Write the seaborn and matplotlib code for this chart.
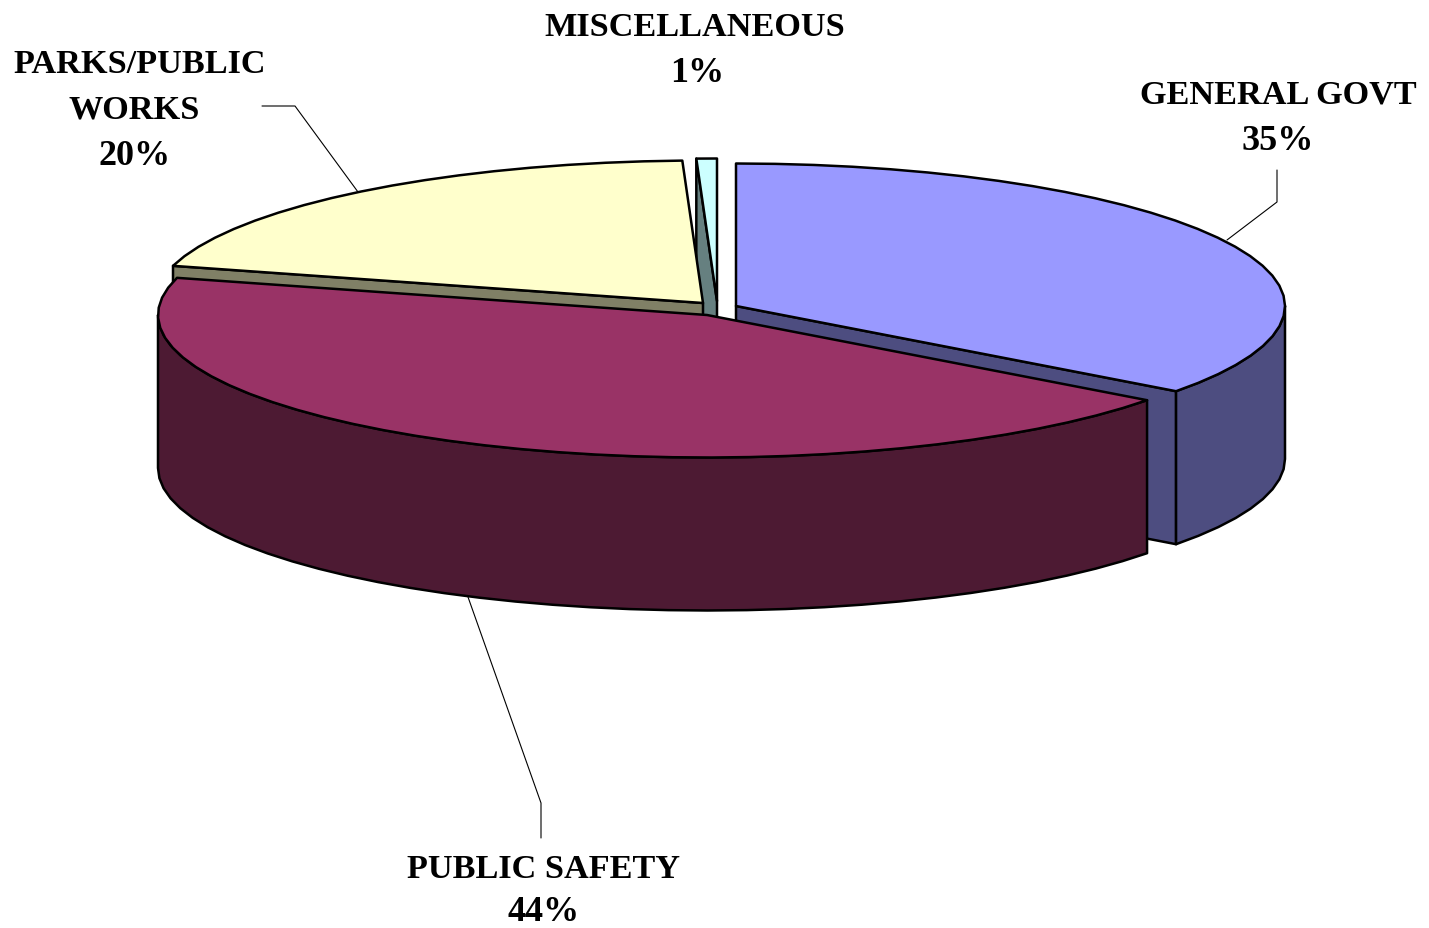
#!/usr/bin/env python3
"""Exploded 3D-look pie of spending shares, drawn as projected polygons."""

import numpy as np
import matplotlib
matplotlib.use('Agg')
import matplotlib.pyplot as plt
import seaborn as sns
from matplotlib.patches import Polygon

# Slices run clockwise from 12 o'clock
CATEGORIES = ['GENERAL GOVT', 'PUBLIC SAFETY', 'PARKS/PUBLIC\nWORKS', 'MISCELLANEOUS']
SHARES = [35.2, 44.0, 20.2, 0.6]
SHARE_LABELS = ['35%', '44%', '20%', '1%']
TOP_COLORS = ['#9999FF', '#993366', '#FFFFCC', '#CCFFFF']
SIDE_COLORS = ['#4D4D80', '#4D1A33', '#808066', '#668080']

# Pixel layout of the projected disc
APEX = [(736, 306), (707, 315), (703, 303), (717, 301)]
RADIUS_X = 549
RADIUS_Y = 142.5
DEPTH = 153
DRAW_ORDER = [3, 2, 0, 1]
EDGE_LW = 1.8

TEXT_POS = [(1278, 94), (544, 869), (140, 63), (695, 26)]
PCT_X = [1278, 544, 135, 697]
PCT_STEP = [46, 43, 46, 46]  # the 44% sits tight against the bottom edge
WORKS_X = 134
LINE_STEP = 46
NAME_SIZE = 24.7
PCT_SIZE = 26
LEADERS = [
    [(1277, 170), (1277, 202), (1227, 240)],
    [(541, 838), (541, 803), (468, 597)],
    [(262, 106), (295, 106), (358, 192)],
]


def rim(apex, theta):
    """Point on the top rim of a slice, theta in degrees clockwise from top."""
    t = np.radians(theta)
    return np.column_stack([apex[0] + RADIUS_X * np.sin(t), apex[1] - RADIUS_Y * np.cos(t)])


def arc_angles(start, end):
    n = max(2, int(abs(end - start) / 4) + 1)
    return np.linspace(start, end, n)


def add_poly(ax, points, color):
    ax.add_patch(Polygon(points, closed=True, facecolor=color, edgecolor='black',
                         linewidth=EDGE_LW, joinstyle='round'))


def draw_slice(ax, apex, start, end, top_color, side_color):
    apex_pt = np.array([apex])
    down = np.array([0, DEPTH])

    # radial faces that look towards the viewer
    if np.sin(np.radians(start)) < 0:
        edge = rim(apex, [start])
        add_poly(ax, np.vstack([apex_pt, edge, edge + down, apex_pt + down]), side_color)
    if np.sin(np.radians(end)) > 0:
        edge = rim(apex, [end])
        add_poly(ax, np.vstack([apex_pt, edge, edge + down, apex_pt + down]), side_color)

    # outer wall, front half of the rim only
    lo, hi = max(start, 90), min(end, 270)
    if hi > lo:
        wall = rim(apex, arc_angles(lo, hi))
        add_poly(ax, np.vstack([wall, wall[::-1] + down]), side_color)

    top = rim(apex, arc_angles(start, end))
    add_poly(ax, np.vstack([apex_pt, top]), top_color)


def main():
    sns.set_theme(style='white')
    plt.rcParams['font.family'] = ['Liberation Serif', 'DejaVu Serif']

    fig = plt.figure(figsize=(14.29, 9.29), dpi=100, facecolor='white')
    ax = fig.add_axes([0, 0, 1, 1])
    ax.set_xlim(0, 1429)
    ax.set_ylim(928, -1)
    ax.set_axis_off()

    edges = np.concatenate([[0], np.cumsum(SHARES)]) / sum(SHARES) * 360
    for i in DRAW_ORDER:
        draw_slice(ax, APEX[i], edges[i], edges[i + 1], TOP_COLORS[i], SIDE_COLORS[i])

    for pts in LEADERS:
        xs, ys = zip(*pts)
        ax.plot(xs, ys, color='black', lw=0.8)

    for i, (name, pct) in enumerate(zip(CATEGORIES, SHARE_LABELS)):
        x, y = TEXT_POS[i]
        name_lines = name.split('\n')
        for j, line in enumerate(name_lines):
            lx = WORKS_X if j > 0 else x
            ax.text(lx, y + j * LINE_STEP, line, ha='center', va='center',
                    fontsize=NAME_SIZE, fontweight='bold', color='black')
        pct_y = y + (len(name_lines) - 1) * LINE_STEP + PCT_STEP[i]
        ax.text(PCT_X[i], pct_y, pct, ha='center', va='center',
                fontsize=PCT_SIZE, fontweight='bold', color='black')

    fig.savefig('out.png', dpi=100, facecolor='white')
    plt.close(fig)


if __name__ == '__main__':
    main()
